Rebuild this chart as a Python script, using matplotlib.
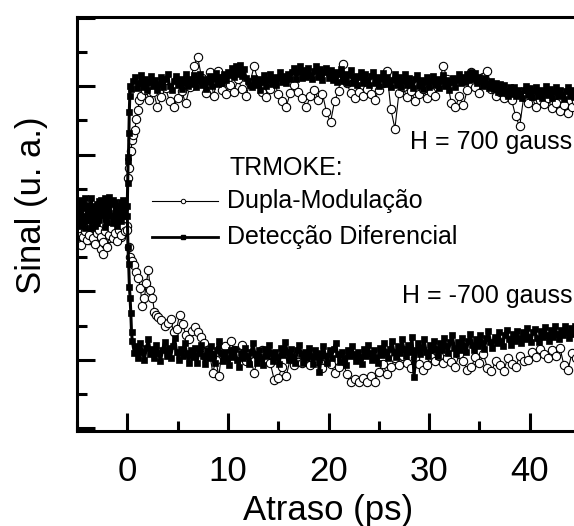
import numpy as np
import matplotlib
matplotlib.use("Agg")
import matplotlib.pyplot as plt
from matplotlib.ticker import MultipleLocator

plt.rcParams['font.family'] = ['Liberation Sans', 'DejaVu Sans']

# ---------------------------------------------------------------------------
# TRMOKE traces, signal in arbitrary units, delay in ps.
# Uniformly sampled stretches are stored as (start, step, values);
# the few points around zero delay are stored with explicit delays.
# ---------------------------------------------------------------------------

# Differential detection, H = +700 G
dd_pos_pre_start, dd_pos_pre_step = -5.0, 0.2
dd_pos_pre = [0.20, 0.02, 0.34, 0.10, -0.08, 0.26, 0.06, 0.36, 0.14, -0.04,
              0.28, 0.04, 0.33, 0.18, -0.06, 0.22, 0.38, 0.10, 0.00, 0.30,
              0.12, 0.25, 0.03, 0.34, 0.16]
dd_pos_rise_t = [0.0, 0.04, 0.08, 0.12, 0.16, 0.20, 0.25, 0.30]
dd_pos_rise = [0.25, 0.58, 0.90, 0.96, 1.32, 1.62, 1.85, 2.00]
dd_pos_post_start, dd_pos_post_step = 0.4, 0.2
dd_pos_post = [1.96, 2.08, 2.14, 1.97, 2.04, 2.16, 1.99, 2.10, 1.94, 2.06,
               2.15, 2.00, 2.09, 1.94, 2.03, 2.14, 1.98, 2.10, 2.17, 2.00,
               1.95, 2.07, 2.15, 2.02, 2.10, 1.96, 2.05, 2.18, 2.00, 2.11,
               2.03, 2.16, 1.98, 2.08, 2.18, 2.02, 2.11, 1.96, 2.06, 2.15,
               2.00, 2.10, 2.19, 2.03, 2.13, 2.05, 2.18, 2.09, 2.20, 2.16,
               2.26, 2.14, 2.30, 2.18, 2.31, 2.15, 2.25, 2.12, 2.08, 2.02,
               1.98, 2.12, 2.02, 2.11, 1.95, 2.06, 2.16, 2.00, 2.09, 2.17,
               2.03, 2.14, 2.02, 2.12, 2.21, 2.06, 2.15, 2.04, 2.18, 2.10,
               2.20, 2.26, 2.10, 2.21, 2.29, 2.12, 2.24, 2.14, 2.27, 2.16,
               2.10, 2.22, 2.29, 2.13, 2.25, 2.09, 2.20, 2.27, 2.12, 2.23,
               2.09, 2.20, 2.06, 2.18, 2.25, 2.08, 2.17, 2.04, 2.16, 2.23,
               2.05, 2.15, 2.02, 2.14, 2.21, 2.05, 2.17, 2.09, 2.01, 2.15,
               2.20, 2.04, 2.14, 2.00, 2.11, 2.19, 2.03, 2.14, 2.06, 1.98,
               2.09, 2.17, 2.02, 2.13, 1.99, 2.08, 2.17, 2.01, 2.12, 2.04,
               1.97, 2.10, 2.16, 2.00, 2.09, 1.96, 2.06, 2.14, 1.99, 2.08,
               2.15, 2.02, 2.10, 1.97, 2.07, 2.16, 2.00, 2.09, 1.95, 2.06,
               2.12, 1.99, 2.09, 2.17, 2.04, 2.13, 2.06, 2.18, 2.09, 2.21,
               2.10, 2.19, 2.04, 2.14, 2.07, 2.00, 2.12, 2.03, 1.97, 2.08,
               1.96, 2.05, 1.92, 2.03, 1.90, 2.01, 1.93, 1.86, 1.99, 1.89,
               1.98, 1.85, 1.95, 1.89, 1.82, 1.94, 2.00, 1.87, 1.97, 1.84,
               1.93, 1.99, 1.86, 1.95, 1.82, 1.91, 2.00, 1.87, 1.96, 1.83,
               1.92, 1.98, 1.85, 1.95, 1.87, 1.81, 1.93, 1.99, 1.86, 1.95,
               1.84, 1.92, 1.86]

# Differential detection, H = -700 G
dd_neg_pre_start, dd_neg_pre_step = -5.0, 0.2
dd_neg_pre = [0.06, 0.28, -0.05, 0.22, 0.36, 0.04, 0.16, -0.08, 0.25, 0.10,
              0.00, 0.32, 0.12, 0.24, 0.37, 0.02, 0.14, 0.28, 0.33, 0.08,
              -0.04, 0.20, 0.30, 0.10, 0.24]
dd_neg_fall_t = [0.0, 0.07, 0.14, 0.21, 0.28, 0.35, 0.42]
dd_neg_fall = [0.10, -0.35, -0.60, -0.93, -1.10, -1.31, -1.60]
dd_neg_post_start, dd_neg_post_step = 0.5, 0.2
dd_neg_post = [-1.72, -1.90, -1.80, -1.98, -1.76, -1.88, -2.00, -1.82, -1.70, -1.92,
               -1.84, -1.98, -1.78, -1.90, -2.02, -1.86, -1.74, -1.94, -1.82, -1.97,
               -1.80, -1.68, -1.88, -2.00, -1.84, -1.95, -1.76, -1.90, -2.04, -1.86,
               -1.96, -1.82, -2.05, -1.90, -1.78, -1.94, -2.06, -1.86, -1.98, -1.80,
               -1.92, -2.04, -1.85, -1.72, -1.90, -2.02, -1.88, -1.97, -2.08, -1.86,
               -1.96, -1.84, -2.00, -2.10, -1.90, -1.98, -1.82, -1.94, -2.06, -1.88,
               -1.76, -1.92, -2.04, -1.86, -1.98, -2.08, -1.84, -1.95, -1.78, -1.90,
               -2.02, -1.88, -1.96, -2.06, -1.82, -1.93, -1.74, -1.88, -2.00, -1.84,
               -1.96, -2.05, -1.86, -1.78, -1.92, -2.04, -1.88, -1.98, -1.82, -1.94,
               -2.06, -1.86, -1.96, -2.18, -1.90, -1.80, -1.94, -2.04, -1.86, -1.97,
               -1.84, -1.76, -1.92, -2.03, -1.88, -1.98, -2.08, -1.86, -1.94, -1.80,
               -1.92, -2.02, -1.88, -1.96, -2.06, -1.84, -1.95, -1.78, -1.90, -2.00,
               -1.86, -1.96, -2.04, -1.82, -1.93, -1.76, -1.88, -1.98, -1.84, -1.72,
               -1.88, -1.96, -1.80, -1.90, -1.70, -1.84, -1.94, -1.78, -1.88, -1.66,
               -2.25, -1.86, -1.76, -1.92, -1.82, -1.70, -1.88, -1.95, -1.78, -1.86,
               -1.72, -1.84, -1.94, -1.76, -1.86, -1.68, -1.80, -1.90, -1.74, -1.64,
               -1.82, -1.92, -1.74, -1.86, -1.68, -1.80, -1.88, -1.72, -1.62, -1.78,
               -1.86, -1.70, -1.80, -1.64, -1.76, -1.84, -1.68, -1.58, -1.74, -1.82,
               -1.66, -1.76, -1.60, -1.72, -1.80, -1.64, -1.56, -1.70, -1.78, -1.62,
               -1.72, -1.58, -1.68, -1.76, -1.60, -1.70, -1.54, -1.66, -1.74, -1.60,
               -1.55, -1.68, -1.74, -1.58, -1.66, -1.52, -1.64, -1.72, -1.56, -1.66,
               -1.50, -1.62, -1.70, -1.56, -1.64, -1.50, -1.60, -1.68, -1.54, -1.62,
               -1.50, -1.60, -1.56]

# Double modulation, H = +700 G
dm_pos_pre_start, dm_pos_pre_step = -5.0, 0.2
dm_pos_pre = [-0.05, -0.30, -0.18, -0.10, -0.22, -0.15, -0.25, -0.08, -0.20, -0.12,
              -0.28, -0.18, -0.38, -0.45, -0.30, -0.15, -0.22, -0.10, -0.18, -0.05,
              -0.25, -0.12, -0.20, -0.15, -0.08]
dm_pos_rise_t = [0.0, 0.1, 0.2, 0.35, 0.5, 0.6, 0.75, 0.9, 1.05, 1.2]
dm_pos_rise = [-0.05, 0.66, 0.80, 1.05, 1.21, 1.28, 1.36, 1.52, 1.65, 1.80]
dm_pos_post_start, dm_pos_post_step = 1.4, 0.4
dm_pos_post = [1.86, 1.95, 1.80, 1.92, 1.69, 1.84, 1.97, 1.78, 1.69, 1.83,
               1.93, 1.75, 1.98, 2.30, 2.42, 2.12, 1.90, 2.20, 1.85, 2.22,
               1.95, 1.88, 2.02, 1.92, 2.10, 1.96, 1.86, 2.05, 2.29, 2.08,
               1.91, 1.84, 1.96, 2.08, 1.88, 1.78, 1.70, 1.90, 2.02, 1.92,
               1.83, 1.69, 1.86, 1.95, 1.80, 1.89, 1.62, 1.47, 1.78, 1.93,
               2.32, 2.05, 1.90, 1.82, 1.92, 1.86, 1.96, 1.88, 1.80, 1.94,
               2.05, 2.22, 1.66, 1.38, 1.90, 1.98, 1.84, 1.93, 1.78, 1.88,
               1.96, 1.82, 1.92, 1.86, 2.05, 2.30, 2.10, 1.75, 1.69, 1.85,
               1.72, 1.95, 2.20, 1.98, 1.90, 2.14, 2.22, 1.96, 1.86, 1.92,
               1.82, 1.88, 1.80, 1.56, 1.41, 1.84, 1.76, 1.86, 1.70, 1.80,
               1.74, 1.82, 1.68, 1.76, 1.64, 1.72, 1.60, 1.70, 1.78]

# Double modulation, H = -700 G
dm_neg_pre_start, dm_neg_pre_step = -5.0, 0.2
dm_neg_pre = [-0.15, -0.08, -0.32, -0.20, -0.12, -0.25, -0.18, -0.05, -0.22, -0.30,
              -0.15, -0.10, -0.20, -0.28, -0.12, -0.35, -0.18, -0.08, -0.22, -0.15,
              -0.26, -0.10, -0.17, -0.05, -0.12]
dm_neg_fall_t = [0.0, 0.15, 0.3, 0.5, 0.7, 0.9, 1.1, 1.3, 1.5, 1.7, 1.9, 2.1, 2.3,
                 2.5, 2.7, 2.9, 3.1, 3.4, 3.7, 4.0, 4.3, 4.6, 4.9, 5.2, 5.5, 5.8,
                 6.1, 6.4, 6.7, 7.0, 7.3, 7.6, 7.9, 8.2, 8.5, 8.8, 9.1, 9.4, 9.7,
                 10.0, 10.3, 10.6]
dm_neg_fall = [-0.10, -0.35, -0.50, -0.55, -0.61, -0.72, -0.80, -0.95, -1.22, -1.10,
               -0.87, -0.69, -0.98, -1.09, -1.30, -1.34, -1.37, -1.42, -1.50, -1.46,
               -1.40, -1.60, -1.55, -1.34, -1.48, -1.63, -1.70, -1.58, -1.52, -1.59,
               -1.66, -1.75, -1.85, -1.92, -2.19, -2.00, -2.24, -1.88, -1.80, -1.95,
               -1.73, -1.85]
dm_neg_post_start, dm_neg_post_step = 11.0, 0.4
dm_neg_post = [-1.90, -1.78, -2.02, -1.92, -2.19, -1.96, -1.86, -2.00, -2.04, -2.29,
               -2.26, -2.10, -2.24, -1.98, -2.07, -1.92, -2.04, -1.95, -2.08, -1.90,
               -2.02, -2.12, -1.96, -2.06, -2.19, -2.10, -2.00, -2.20, -2.33, -2.28,
               -2.33, -2.26, -2.32, -2.24, -2.33, -2.18, -2.06, -2.21, -2.10, -1.98,
               -2.08, -1.95, -2.04, -2.12, -1.98, -2.06, -2.15, -2.08, -1.96, -2.02,
               -1.94, -2.05, -1.98, -2.03, -2.10, -1.92, -2.02, -2.15, -2.10, -1.96,
               -2.04, -1.92, -2.12, -2.17, -2.02, -2.08, -2.17, -1.98, -2.06, -2.11,
               -1.94, -2.02, -2.00, -1.88, -1.96, -1.84, -1.92, -1.97, -1.86, -1.94,
               -1.82, -2.08, -2.15, -1.90, -1.98]

x_ticks = [0, 10, 20, 30, 40]
x_label = "Atraso (ps)"
y_label = "Sinal (u. a.)"
legend_title = "TRMOKE:"
legend_labels = ["Dupla-Modulação", "Detecção Diferencial"]
field_labels = ["H = 700 gauss", "H = -700 gauss"]


def uniform(start, step, values):
    return start + step * np.arange(len(values)), np.asarray(values, float)


def trace(pre, mid_t, mid, post):
    t0, y0 = uniform(*pre)
    t2, y2 = uniform(*post)
    t = np.concatenate([t0, np.asarray(mid_t, float), t2])
    y = np.concatenate([y0, np.asarray(mid, float), y2])
    return t, y


t_dd_pos, y_dd_pos = trace((dd_pos_pre_start, dd_pos_pre_step, dd_pos_pre),
                           dd_pos_rise_t, dd_pos_rise,
                           (dd_pos_post_start, dd_pos_post_step, dd_pos_post))
t_dd_neg, y_dd_neg = trace((dd_neg_pre_start, dd_neg_pre_step, dd_neg_pre),
                           dd_neg_fall_t, dd_neg_fall,
                           (dd_neg_post_start, dd_neg_post_step, dd_neg_post))
t_dm_pos, y_dm_pos = trace((dm_pos_pre_start, dm_pos_pre_step, dm_pos_pre),
                           dm_pos_rise_t, dm_pos_rise,
                           (dm_pos_post_start, dm_pos_post_step, dm_pos_post))
t_dm_neg, y_dm_neg = trace((dm_neg_pre_start, dm_neg_pre_step, dm_neg_pre),
                           dm_neg_fall_t, dm_neg_fall,
                           (dm_neg_post_start, dm_neg_post_step, dm_neg_post))

fig = plt.figure(figsize=(5.74, 5.26), dpi=100)
ax = fig.add_axes([0.1341, 0.1806, 0.8764, 0.7871])

dm_style = dict(color="black", lw=0.8, marker="o", ms=6.0, mfc="white",
                mec="black", mew=0.8, zorder=2)
dd_style = dict(color="black", lw=2.2, marker="s", ms=5.0, mfc="black",
                mec="black", mew=0.5, zorder=3)

ax.plot(t_dm_pos, y_dm_pos, **dm_style)
ax.plot(t_dm_neg, y_dm_neg, **dm_style)
ax.plot(t_dd_pos, y_dd_pos, **dd_style)
ax.plot(t_dd_neg, y_dd_neg, **dd_style)

ax.set_xlim(-5, 45)
ax.set_ylim(-3.04, 3.01)
ax.set_xticks(x_ticks)
ax.xaxis.set_minor_locator(MultipleLocator(5))
ax.yaxis.set_major_locator(MultipleLocator(1))
ax.yaxis.set_minor_locator(MultipleLocator(0.5))
ax.tick_params(which="both", direction="in", width=2.2, top=False, right=False,
               labelleft=False)
ax.tick_params(which="major", length=13, labelsize=25, pad=17.5)
ax.tick_params(which="minor", length=7)
for side in ("left", "bottom", "top"):
    ax.spines[side].set_linewidth(2.2)
ax.spines["right"].set_visible(False)

ax.set_xlabel(x_label, fontsize=25)
ax.xaxis.set_label_coords(0.5, -0.152)
ax.set_ylabel(y_label, fontsize=25)
ax.yaxis.label.set_va("center")
ax.yaxis.set_label_coords(-0.0905, 0.546)

ax.text(28.1, 1.08, field_labels[0], fontsize=18, va="baseline", ha="left",
        clip_on=False)
ax.text(27.3, -1.17, field_labels[1], fontsize=18, va="baseline", ha="left",
        clip_on=False)

# legend block
tr = ax.transAxes
ax.text(0.304, 0.618, legend_title, transform=tr, fontsize=18, va="baseline")
ax.plot([0.149, 0.280], [0.556, 0.556], transform=tr, color="black", lw=0.8,
        clip_on=False)
ax.plot([0.2107], [0.556], transform=tr, marker="o", ms=3.2, mfc="white",
        mec="black", mew=0.7, clip_on=False)
ax.text(0.298, 0.539, legend_labels[0], transform=tr, fontsize=18, va="baseline")
ax.plot([0.149, 0.280], [0.469, 0.469], transform=tr, color="black", lw=2.0,
        clip_on=False)
ax.plot([0.2107], [0.469], transform=tr, marker="s", ms=3.2, mfc="black",
        mec="black", clip_on=False)
ax.text(0.298, 0.452, legend_labels[1], transform=tr, fontsize=18, va="baseline")

fig.savefig("out.png", dpi=100)
